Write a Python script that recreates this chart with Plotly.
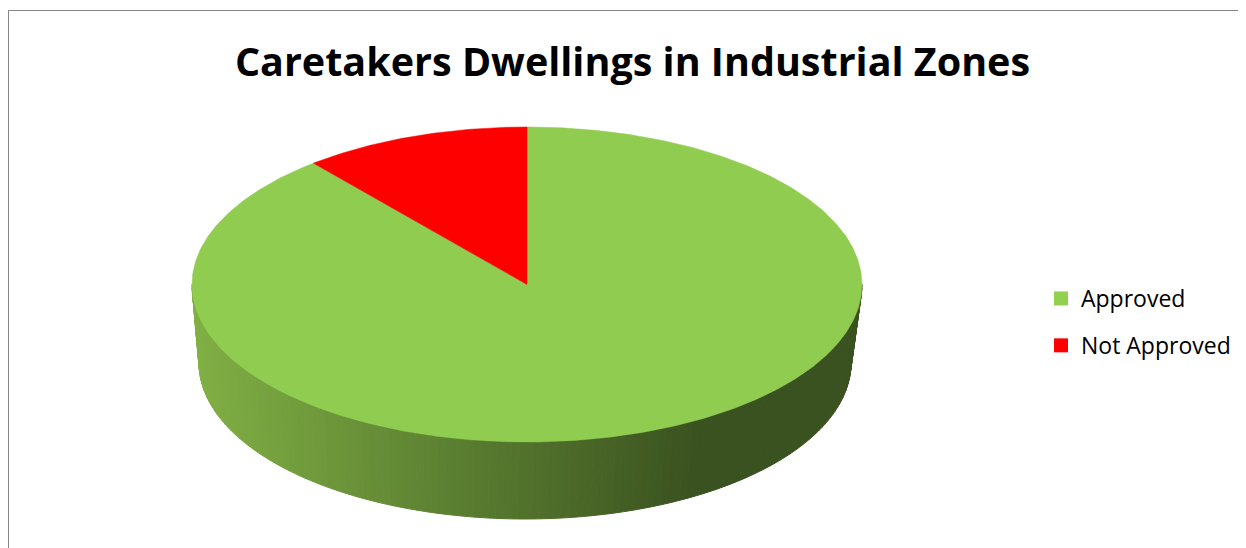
import numpy as np
import plotly.graph_objects as go

# ---- data ----
categories = ["Approved", "Not Approved"]
values = [89, 11]
colors = ["#8FCC4F", "#FF0000"]
legend_colors = ["#92D050", "#FF0000"]
title_text = "Caretakers Dwellings in Industrial Zones"

# ---- geometry (screen-pixel space; page body has an 8px margin) ----
W, H = 1246, 548
OFF = 8
cx, cy = 527, 284.5
rx, ry = 335, 157.5
cxb, cyb = 525, 363
rxb, ryb = 326, 156

def top_pt(a):
    a = np.radians(a)
    return cx + rx * np.sin(a), cy - ry * np.cos(a)

def bot_pt(a):
    a = np.radians(a)
    return cxb + rxb * np.sin(a), cyb - ryb * np.cos(a)

def side_color(x):
    light = np.array([128, 175, 68])
    dark = np.array([58, 82, 32])
    t = np.clip((x - 197) / (700 - 197), 0, 1)
    c = light + (dark - light) * t
    return "rgb(%d,%d,%d)" % tuple(c.astype(int))

def px(x):
    return (x - OFF) / W

def py(y):
    return 1 - (y - OFF) / H

total = sum(values)
starts = []
acc = 0.0
for v in values:
    starts.append(acc / total * 360)
    acc += v
ends = [s + v / total * 360 for s, v in zip(starts, values)]

fig = go.Figure()

# side (front half visible: angles 90..270)
N = 140
edges = np.linspace(90, 270, N + 1)
for i in range(N):
    a0, a1 = edges[i], edges[i + 1]
    am = (a0 + a1) / 2
    idx = next(k for k in range(len(values)) if starts[k] <= am < ends[k])
    aa = np.linspace(a0, a1, 4)
    tx, ty = top_pt(aa)
    bx, by = bot_pt(aa[::-1])
    xs = np.concatenate([tx, bx, tx[:1]])
    ys = np.concatenate([ty, by, ty[:1]])
    col = side_color(np.mean(tx))
    if idx != 0:
        col = "#A00000"
    fig.add_trace(go.Scatter(x=xs, y=ys, mode="lines", fill="toself",
                             fillcolor=col, line=dict(color=col, width=1),
                             hoverinfo="skip", showlegend=False))

# top faces
for k, v in enumerate(values):
    aa = np.linspace(starts[k], ends[k], max(int(v / total * 720), 4))
    tx, ty = top_pt(aa)
    xs = np.concatenate([[cx], tx, [cx]])
    ys = np.concatenate([[cy], ty, [cy]])
    fig.add_trace(go.Scatter(x=xs, y=ys, mode="lines", fill="toself",
                             fillcolor=colors[k], line=dict(color=colors[k], width=0.5),
                             hoverinfo="skip", showlegend=False))

# legend entries
for k, name in enumerate(categories):
    fig.add_trace(go.Scatter(x=[None], y=[None], mode="markers", name=name,
                             legendgroup=name,
                             marker=dict(symbol="square", size=14, color=legend_colors[k])))

fig.update_layout(
    width=W, height=H,
    margin=dict(l=0, r=0, t=0, b=0),
    paper_bgcolor="white", plot_bgcolor="white",
    xaxis=dict(range=[OFF, W + OFF], visible=False, fixedrange=True),
    yaxis=dict(range=[H + OFF, OFF], visible=False, fixedrange=True),
    title=dict(text="<b>" + title_text + "</b>", x=px(632.5), xanchor="center",
               y=py(62), yanchor="middle",
               font=dict(family="Open Sans", size=39.5, color="black")),
    legend=dict(x=px(1041), y=py(277), xanchor="left", yanchor="top",
                font=dict(family="Open Sans", size=23, color="black"),
                tracegroupgap=14, bgcolor="rgba(0,0,0,0)"),
    shapes=[dict(type="line", xref="paper", yref="paper", x0=px(8), x1=1, y0=py(10.5), y1=py(10.5),
                 line=dict(color="#868686", width=1)),
            dict(type="line", xref="paper", yref="paper", x0=px(8.5), x1=px(8.5), y0=0, y1=py(10),
                 line=dict(color="#868686", width=1))],
)

fig.write_html("out.html")
